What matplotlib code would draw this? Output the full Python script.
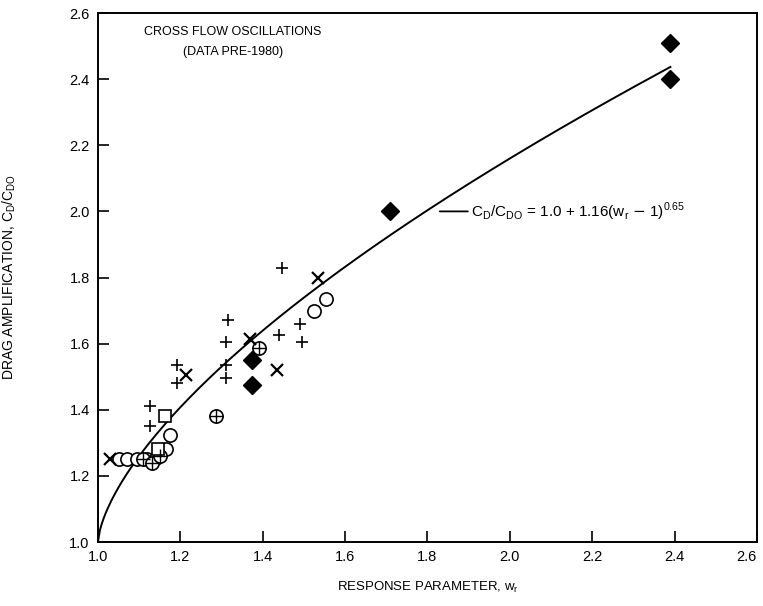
import numpy as np
import matplotlib
matplotlib.use("Agg")
import matplotlib.pyplot as plt

plt.rcParams['font.family'] = ['Liberation Sans', 'DejaVu Sans']

# ---- data ----
circ_x = [1.05, 1.07, 1.095, 1.12, 1.14, 1.165, 1.175, 1.525, 1.553]
circ_y = [1.25, 1.25, 1.25, 1.25, 1.255, 1.28, 1.325, 1.70, 1.735]

cplus_x = [1.11, 1.13, 1.15, 1.286, 1.392]
cplus_y = [1.25, 1.24, 1.26, 1.38, 1.586]

sq_x = [1.146, 1.163]
sq_y = [1.28, 1.38]

plus_x = [1.126, 1.126, 1.191, 1.191, 1.316, 1.312, 1.31, 1.31, 1.446, 1.44, 1.49, 1.496]
plus_y = [1.41, 1.35, 1.535, 1.48, 1.67, 1.605, 1.535, 1.495, 1.83, 1.625, 1.66, 1.605]

cross_x = [1.03, 1.214, 1.369, 1.434, 1.535]
cross_y = [1.25, 1.505, 1.615, 1.52, 1.80]

dia_x = [2.39, 2.39, 1.71, 1.373, 1.373]
dia_y = [2.51, 2.40, 2.00, 1.55, 1.475]

x_ticks = [1.0, 1.2, 1.4, 1.6, 1.8, 2.0, 2.2, 2.4, 2.6]
y_ticks = [1.0, 1.2, 1.4, 1.6, 1.8, 2.0, 2.2, 2.4, 2.6]

# fitted curve C_D/C_DO = 1.0 + 1.16 (w_r - 1)^0.65
coef_a, coef_b, coef_p = 1.0, 1.16, 0.65
w_min, w_max = 1.0, 2.39

fig = plt.figure(figsize=(7.63, 6.06), dpi=100)
ax = fig.add_axes([0.1284, 0.1056, 0.8636, 0.8729])

w = np.linspace(w_min, w_max, 300)
ax.plot(w, coef_a + coef_b * (w - 1.0) ** coef_p, color='black', lw=1.4, zorder=2)

ax.plot(circ_x, circ_y, 'o', ms=9.5, mfc='white', mec='black', mew=1.2, ls='none', zorder=3)
ax.plot(cplus_x, cplus_y, 'o', ms=9.5, mfc='white', mec='black', mew=1.2, ls='none', zorder=3)
ax.plot(cplus_x, cplus_y, '+', ms=9.5, color='black', mew=1.0, ls='none', zorder=4)
ax.plot(sq_x, sq_y, 's', ms=8.5, mfc='white', mec='black', mew=1.2, ls='none', zorder=3)
ax.plot(plus_x, plus_y, '+', ms=9, color='black', mew=1.2, ls='none', zorder=3)
ax.plot(cross_x, cross_y, 'x', ms=8.5, color='black', mew=1.6, ls='none', zorder=3)
ax.plot(dia_x, dia_y, 'D', ms=9.5, color='black', ls='none', zorder=3)

ax.set_xlim(1.0, 2.6)
ax.set_ylim(1.0, 2.6)
ax.set_xticks(x_ticks)
ax.set_yticks(y_ticks)
ax.set_xticklabels([f"{v:.1f}" for v in x_ticks])
ax.set_yticklabels([f"{v:.1f}" for v in y_ticks])
ax.tick_params(direction='in', length=8, width=1.2, labelsize=10.5, pad=6)
ax.get_xticklabels()[-1].set_horizontalalignment('right')
for s in ax.spines.values():
    s.set_linewidth(1.4)

ax.set_xlabel(r"RESPONSE PARAMETER, w$_\mathregular{r}$", fontsize=9.5, labelpad=11)
ax.set_ylabel(r"DRAG AMPLIFICATION, C$_\mathregular{D}$/C$_\mathregular{DO}$", fontsize=10, labelpad=37)

ax.text(1.328, 2.543, "CROSS FLOW OSCILLATIONS", ha='center', va='center', fontsize=9)
ax.text(1.328, 2.483, "(DATA PRE-1980)", ha='center', va='center', fontsize=9)

ax.annotate(r"C$_\mathregular{D}$/C$_\mathregular{DO}$ = 1.0 + 1.16(w$_\mathregular{r}$ $-$ 1)$^{\mathregular{0.65}}$",
            xy=(1.83, 2.0), xytext=(1.905, 2.0), ha='left', va='center', fontsize=11,
            arrowprops=dict(arrowstyle='-', color='black', lw=1.3, shrinkA=0, shrinkB=0))

fig.savefig("out.png", dpi=100)
